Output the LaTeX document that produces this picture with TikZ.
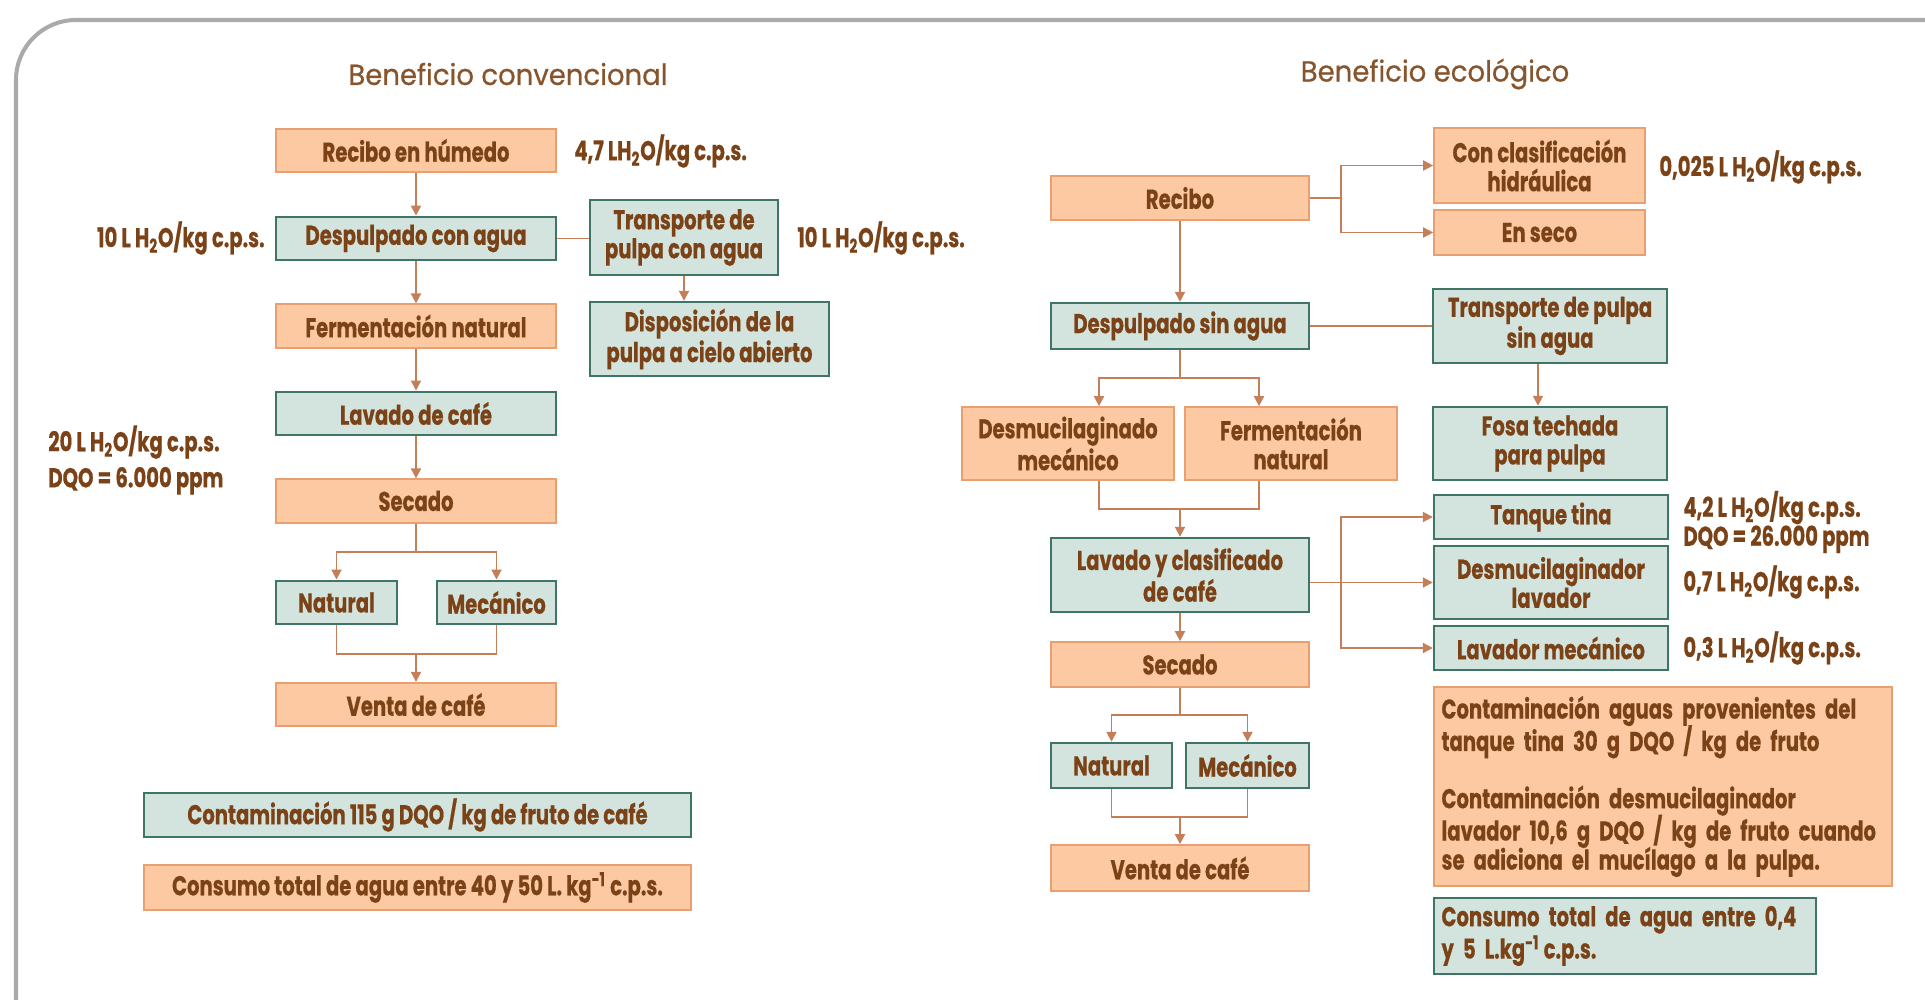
\documentclass[tikz,border=0pt]{standalone}
\usepackage{fontspec}
\usepackage{xcolor}
\usepackage{tikz}
\usetikzlibrary{positioning, calc, arrows.meta}

\newfontfamily\boxfont{Poppins}[FakeStretch=0.72, FakeBold=0.5]
\newfontfamily\headfont{Poppins}[FakeStretch=0.95, FakeBold=0.6]

\definecolor{peach}{HTML}{FCC9A3}
\definecolor{peachline}{HTML}{E8A072}
\definecolor{sage}{HTML}{D3E4DE}
\definecolor{sageline}{HTML}{3E7566}
\definecolor{coffee}{HTML}{7A4216}
\definecolor{wirecol}{HTML}{C47E58}
\definecolor{framegray}{HTML}{AAAAAA}

\newcommand{\water}{H\textsubscript{2}O}

\begin{document}
\begin{tikzpicture}[x=0.02cm, y=-0.02cm,
    box/.style={inner sep=0pt, align=center, text=coffee,
      font=\boxfont\bfseries\fontsize{15.5}{16.5}\selectfont},
    obox/.style={box, draw=peachline, line width=1pt, fill=peach},
    gbox/.style={box, draw=sageline, line width=1.4pt, fill=sage},
    lbl/.style={inner sep=0pt, align=left, text=coffee,
      font=\boxfont\bfseries\fontsize{15.5}{16.5}\selectfont},
    head/.style={inner sep=0pt, text=coffee!90,
      font=\headfont\fontsize{16.5}{18}\selectfont},
    wire/.style={draw=wirecol, line width=1.1pt},
    arr/.style={wire, -{Triangle[length=0.2cm, width=0.2cm]}}]
  \useasboundingbox (0,0) rectangle (1925,1000);
  \draw[framegray, line width=2.3pt, rounded corners=1.2cm] (16,20) rectangle (1990,1060);

  % beneficio convencional
  \node[head] (tituloC) at (508,74) {Beneficio convencional};
  \foreach \n/\y/\t in {recH/150.5/Recibo en húmedo, fermC/326/Fermentación natural,
                        secC/501/Secado, ventC/704.5/Venta de café}
    \node[obox, minimum width=5.6cm, minimum height=0.87cm] (\n) at (416,\y) {\t};
  \foreach \n/\y/\t in {despC/238.5/Despulpado con agua, lavC/413.5/Lavado de café}
    \node[gbox, minimum width=5.6cm, minimum height=0.87cm] (\n) at (416,\y) {\t};
  \node[gbox, minimum width=3.76cm, minimum height=1.5cm] (transC) at (684,237.5) {Transporte de\\pulpa con agua};
  \node[gbox, minimum width=4.78cm, minimum height=1.48cm] (dispC) at (709.5,339) {Disposición de la\\pulpa a cielo abierto};
  \node[gbox, minimum width=2.42cm, minimum height=0.87cm] (natC) at (336.5,602.5) {Natural};
  \node[gbox, minimum width=2.38cm, minimum height=0.87cm] (mecC) at (496.5,602.5) {Mecánico};
  \node[gbox, minimum width=10.94cm, minimum height=0.88cm] (contC) at (417.5,815) {Contaminación 115 g DQO / kg de fruto de café};
  \node[obox, minimum width=10.94cm, minimum height=0.9cm] (consC) at (417.5,887.5) {Consumo total de agua entre 40 y 50 L. kg\textsuperscript{-1}\,c.p.s.};

  \node[lbl, anchor=west] (aguaRecH) at (574,151) {4,7 L\water/kg c.p.s.};
  \node[lbl, anchor=east] (aguaDespC) at (265,238) {10 L \water/kg c.p.s.};
  \node[lbl, anchor=west] (aguaTransC) at (797,238) {10 L \water/kg c.p.s.};
  \node[lbl, anchor=west] (aguaLavC) at (48,460) {20 L \water/kg c.p.s.\\[4pt]DQO = 6.000 ppm};

  \draw[arr] (recH) -- (despC);
  \draw[wire] (despC.east) -- (despC.east -| transC.west);
  \draw[arr] (transC) -- (transC |- dispC.north);
  \draw[arr] (despC) -- (fermC);
  \draw[arr] (fermC) -- (lavC);
  \draw[arr] (lavC) -- (secC);
  \coordinate (forkC) at ($(secC.south)!0.5!(secC.south |- natC.north)$);
  \draw[wire] (secC.south) -- (forkC);
  \draw[arr] (forkC) -| (natC.north);
  \draw[arr] (forkC) -| (mecC.north);
  \coordinate (joinC) at ($(ventC.north)!0.5!(ventC.north |- natC.south)$);
  \draw[wire] (natC.south) |- (joinC) -| (mecC.south);
  \draw[arr] (joinC) -- (ventC.north);

  % beneficio ecologico
  \node[head] (tituloE) at (1435,74) {Beneficio ecológico};
  \foreach \n/\y/\h/\t in {recE/198/0.88/Recibo, secE/664.5/0.9/Secado, ventE/868/0.92/Venta de café}
    \node[obox, minimum width=5.16cm, minimum height=\h cm] (\n) at (1180,\y) {\t};
  \foreach \n/\y/\h/\t in {despE/326/0.92/Despulpado sin agua, lavE/575/1.48/{Lavado y clasificado\\de café}}
    \node[gbox, minimum width=5.16cm, minimum height=\h cm] (\n) at (1180,\y) {\t};
  \node[obox, minimum width=4.22cm, minimum height=1.5cm] (clasE) at (1539.5,165.5) {Con clasificación\\hidráulica};
  \node[obox, minimum width=4.22cm, minimum height=0.9cm] (secoE) at (1539.5,232.5) {En seco};
  \node[gbox, minimum width=4.68cm, minimum height=1.48cm] (transE) at (1550,326) {Transporte de pulpa\\sin agua};
  \node[gbox, minimum width=4.68cm, minimum height=1.46cm] (fosaE) at (1550,443.5) {Fosa techada\\para pulpa};
  \node[obox, minimum width=4.24cm, minimum height=1.46cm] (desmE) at (1068,443.5) {Desmucilaginado\\mecánico};
  \node[obox, minimum width=4.24cm, minimum height=1.46cm] (fermE) at (1291,443.5) {Fermentación\\natural};
  \node[gbox, minimum width=4.68cm, minimum height=0.88cm] (tanqE) at (1551,517) {Tanque tina};
  \node[gbox, minimum width=4.68cm, minimum height=1.46cm] (dlavE) at (1551,582.5) {Desmucilaginador\\lavador};
  \node[gbox, minimum width=4.68cm, minimum height=0.88cm] (lmecE) at (1551,648) {Lavador mecánico};
  \node[gbox, minimum width=2.42cm, minimum height=0.9cm] (natE) at (1111.5,765.5) {Natural};
  \node[gbox, minimum width=2.46cm, minimum height=0.9cm] (mecE) at (1247.5,765.5) {Mecánico};
  \node[obox, align=left, text width=8.86cm, inner xsep=0.15cm, minimum height=3.98cm] (notaE) at (1663,786.5)
    {Contaminación aguas provenientes del\\[-1.6pt]tanque tina 30 g DQO / kg de fruto\\[14.4pt]Contaminación desmucilaginador\\[-1.6pt]lavador 10,6 g DQO / kg de fruto cuando\\[-1.6pt]se adiciona el mucílago a la pulpa.};
  \node[gbox, align=left, text width=7.34cm, inner xsep=0.15cm, minimum height=1.52cm] (consE) at (1625,936)
    {Consumo total de agua entre 0,4\\y 5 L.kg\textsuperscript{-1}\,c.p.s.};

  \node[lbl, anchor=west] (aguaClasE) at (1659,167) {0,025 L \water/kg c.p.s.};
  \node[lbl, anchor=west] (aguaTanqE) at (1683,522) {4,2 L \water/kg c.p.s.\\DQO = 26.000 ppm};
  \node[lbl, anchor=west] (aguaDlavE) at (1683,582) {0,7 L \water/kg c.p.s.};
  \node[lbl, anchor=west] (aguaLmecE) at (1683,648) {0,3 L \water/kg c.p.s.};

  \coordinate (forkR) at ($(recE.east)+(31,0)$);
  \draw[wire] (recE.east) -- (forkR);
  \draw[arr] (forkR) |- (clasE.west);
  \draw[arr] (forkR) |- (secoE.west);
  \draw[arr] (recE) -- (despE);
  \draw[wire] (despE.east) -- (despE.east -| transE.west);
  \draw[arr] ($(transE.south)+(-12,0)$) -- ($(fosaE.north)+(-12,0)$);
  \coordinate (forkD) at ($(despE.south)!0.5!(despE.south |- desmE.north)$);
  \draw[wire] (despE.south) -- (forkD);
  \draw[arr] (forkD) -| ($(desmE.north)+(31,0)$);
  \draw[arr] (forkD) -| ($(fermE.north)+(-32,0)$);
  \coordinate (joinD) at ($(lavE.north)!0.5!(lavE.north |- desmE.south)$);
  \draw[wire] ($(desmE.south)+(31,0)$) |- (joinD) -| ($(fermE.south)+(-32,0)$);
  \draw[arr] (joinD) -- (lavE.north);
  \coordinate (forkL) at ($(lavE.east |- dlavE.west)+(31,0)$);
  \draw[arr] (lavE.east |- dlavE.west) -- (dlavE.west);
  \draw[arr] (forkL) |- (tanqE.west);
  \draw[arr] (forkL) |- (lmecE.west);
  \draw[arr] (lavE) -- (secE);
  \coordinate (forkS) at ($(secE.south)!0.5!(secE.south |- natE.north)$);
  \draw[wire] (secE.south) -- (forkS);
  \draw[arr] (forkS) -| (natE.north);
  \draw[arr] (forkS) -| (mecE.north);
  \coordinate (joinS) at ($(ventE.north)!0.5!(ventE.north |- natE.south)$);
  \draw[wire] (natE.south) |- (joinS) -| (mecE.south);
  \draw[arr] (joinS) -- (ventE.north);
\end{tikzpicture}
\end{document}
